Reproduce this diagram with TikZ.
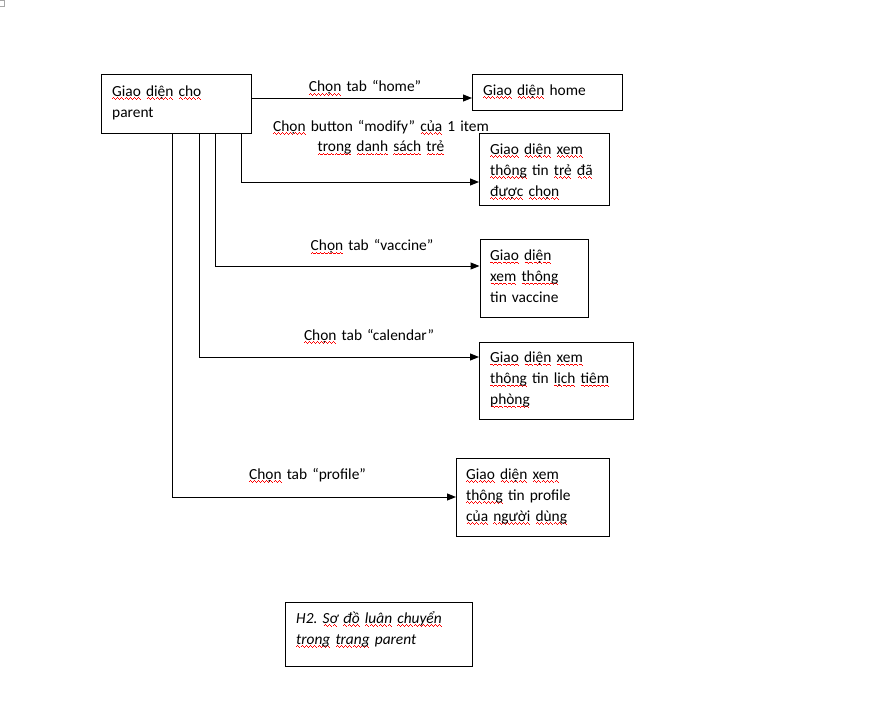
\documentclass[tikz,border=0pt]{standalone}
\usepackage{fontspec}
\setmainfont{Carlito}
\usetikzlibrary{arrows.meta,calc}
\frenchspacing

% red wavy underline, as left by a spell checker
\newsavebox\wvbox
\newcommand\wvpat{\hbox{\rule[-2.7pt]{1pt}{0.9pt}\rule[-1.9pt]{1pt}{0.9pt}\rule[-2.7pt]{1pt}{0.9pt}\rule[-3.5pt]{1pt}{0.9pt}}}
\newcommand\wv[1]{\leavevmode\sbox\wvbox{#1}\rlap{\color{red}\xleaders\wvpat\hskip\wd\wvbox}\usebox\wvbox}

\begin{document}
\begin{tikzpicture}[x=1pt,y=-1pt,
  box/.style={draw, line width=1pt, inner sep=0pt, anchor=north west},
  txt/.style={font=\fontsize{15.4}{21}\selectfont, text width=200pt, align=left,
              inner sep=0pt, anchor=base west},
  lbl/.style={font=\fontsize{15.4}{20.7}\selectfont, text width=260pt, align=center,
              inner sep=0pt, anchor=base},
  arr/.style={line width=1pt, -{Triangle[length=9pt,width=7pt]}}]

\useasboundingbox (0,0) rectangle (896,717);
\draw[gray!70, line width=0.8pt] (-2,0.5) rectangle (4.5,6.5);

% screens
\node[box, minimum width=150pt, minimum height=59pt] (parent) at (101,74) {};
\node[box, minimum width=150pt, minimum height=36pt] (home) at (472,74) {};
\node[box, minimum width=130pt, minimum height=72pt] (sel) at (479,133) {};
\node[box, minimum width=108pt, minimum height=78pt] (vac) at (479.5,239) {};
\node[box, minimum width=154pt, minimum height=77pt] (cal) at (479,342) {};
\node[box, minimum width=153pt, minimum height=78pt] (prof) at (456,458) {};
\node[box, minimum width=187pt, minimum height=64pt] (cap) at (285,602) {};

% screen texts
\node[txt] (parent-t) at ($(parent.north west)+(11,22)$) {\wv{Giao} \wv{diện} \wv{cho}\\parent};
\node[txt] (home-t) at ($(home.north west)+(11,21)$) {\wv{Giao} \wv{diện} home};
\node[txt] (sel-t) at ($(sel.north west)+(11,21)$) {\wv{Giao} \wv{diện} \wv{xem}\\\wv{thông} tin \wv{trẻ} \wv{đã}\\\wv{được} \wv{chọn}};
\node[txt] (vac-t) at ($(vac.north west)+(10.5,21.5)$) {\wv{Giao} \wv{diện}\\\wv{xem} \wv{thông}\\tin vaccine};
\node[txt] (cal-t) at ($(cal.north west)+(11,20.5)$) {\wv{Giao} \wv{diện} \wv{xem}\\\wv{thông} tin \wv{lịch} \wv{tiêm}\\\wv{phòng}};
\node[txt] (prof-t) at ($(prof.north west)+(10,21.3)$) {\wv{Giao} \wv{diện} \wv{xem}\\\wv{thông} tin profile\\\wv{của} \wv{người} \wv{dùng}};
\node[txt] (cap-t) at ($(cap.north west)+(11,21)$) {\itshape H2. \wv{Sơ} \wv{đồ} \wv{luân} \wv{chuyển}\\\wv{trong} \wv{trang} parent};

% transitions
\draw[arr] ($(parent.north east)+(0,24)$) -- ($(home.north west)+(0,24)$);
\draw[arr] ($(parent.south west)+(140.5,0)$) |- ($(sel.north west)+(0,49)$);
\draw[arr] ($(parent.south west)+(114,0)$) |- ($(vac.north west)+(0,27)$);
\draw[arr] ($(parent.south west)+(98,0)$) |- ($(cal.north west)+(0,15)$);
\draw[arr] ($(parent.south west)+(71,0)$) |- ($(prof.north west)+(0,39)$);

% transition labels
\node[lbl] (l-home) at (365,92) {\wv{Chọn} tab “home”};
\node[lbl] (l-sel) at (381,131) {\wv{Chọn} button “modify” \wv{của} 1 item\\\wv{trong} \wv{danh} \wv{sách} \wv{trẻ}};
\node[lbl] (l-vac) at (372,250.7) {\wv{Chọn} tab “vaccine”};
\node[lbl] (l-cal) at (369,340) {\wv{Chọn} tab “calendar”};
\node[lbl] (l-prof) at (307.5,479) {\wv{Chọn} tab “profile”};
\end{tikzpicture}
\end{document}
